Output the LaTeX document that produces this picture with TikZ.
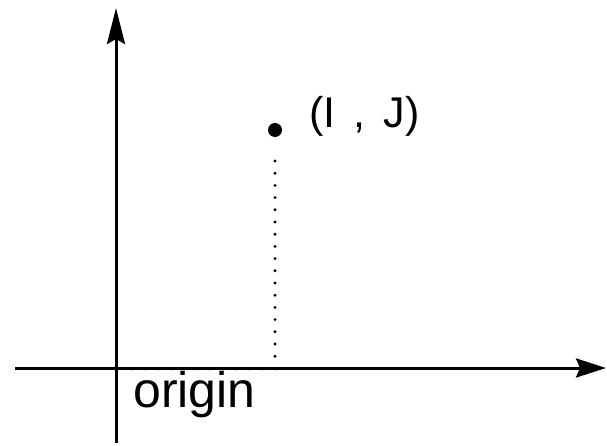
\documentclass[tikz,border=0pt]{standalone}
\usepackage{fontspec}
\setmainfont{Liberation Sans}
\usetikzlibrary{arrows.meta}
\begin{document}
\begin{tikzpicture}[x=1pt,y=-1pt,
  axis/.style={line width=3pt,-{Stealth[length=30pt,width=19pt,inset=4pt]}},
  dotline/.style={line width=3.2pt,line cap=round,dash pattern=on 0pt off 12.2pt},
  lbl/.style={inner sep=0pt,anchor=base west}]
\useasboundingbox (0,0) rectangle (607,446);
\coordinate (o) at (116,368);
\coordinate (xl) at (15,368);
\coordinate (xr) at (606,368);
\coordinate (yb) at (116,443);
\coordinate (yt) at (116,8);
\coordinate (pt) at (275,130);
\coordinate (ds) at (275,161);
\coordinate (de) at (275,366);
\coordinate (hs) at (275,369.8);
\coordinate (he) at (120,369.8);
\draw[line width=1.4pt,line cap=round,dash pattern=on 0pt off 13pt] (hs) -- (he);
\draw[axis] (xl) -- (xr);
\draw[axis,-{Stealth[length=36pt,width=18pt,inset=5pt]}] (yb) -- (yt);
\fill (pt) circle (7);
\draw[dotline] (ds) -- (de);
\node[lbl,font=\fontsize{43}{46}\selectfont] (ij) at (309,128) {\spaceskip=0.42em\relax (I , J)};
\node[lbl,font=\fontsize{50}{54}\selectfont] (orig) at (133,407) {origin};
\end{tikzpicture}
\end{document}
